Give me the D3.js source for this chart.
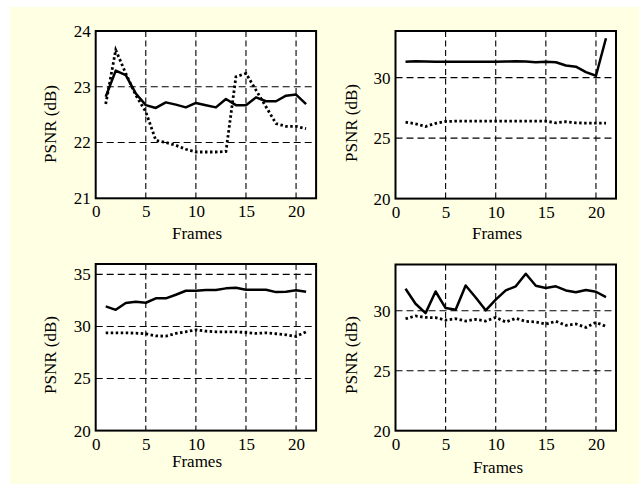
<!DOCTYPE html>
<html>
<head>
<meta charset="utf-8">
<script src="https://cdn.jsdelivr.net/npm/d3@7"></script>
<style>
  body { margin: 0; background: #fff; }
  svg { display: block; }
  text { font-family: "Liberation Serif", "Times New Roman", serif; fill: #000; }
</style>
</head>
<body>
<script>
// frame numbers on x
const frames = [1,2,3,4,5,6,7,8,9,10,11,12,13,14,15,16,17,18,19,20,21];
const xTicks = [0, 5, 10, 15, 20];

// PSNR values (dB), solid and dotted series for each panel
const p1Solid  = [22.82,23.29,23.21,22.88,22.67,22.62,22.72,22.68,22.63,22.71,22.67,22.63,22.78,22.67,22.67,22.81,22.74,22.74,22.84,22.86,22.69];
const p1Dotted = [22.69,23.66,23.24,22.85,22.55,22.04,22.0,21.95,21.88,21.83,21.83,21.83,21.84,23.18,23.24,22.94,22.64,22.34,22.29,22.29,22.25];
const p2Solid  = [31.3,31.35,31.32,31.3,31.3,31.3,31.3,31.3,31.3,31.3,31.32,31.35,31.33,31.27,31.3,31.27,31.0,30.9,30.45,30.15,33.25];
const p2Dotted = [26.32,26.18,25.96,26.21,26.37,26.4,26.4,26.4,26.4,26.4,26.4,26.4,26.4,26.4,26.4,26.26,26.35,26.26,26.24,26.24,26.24];
const p3Solid  = [31.93,31.6,32.25,32.38,32.28,32.7,32.7,33.05,33.43,33.43,33.5,33.5,33.66,33.72,33.53,33.53,33.53,33.3,33.33,33.47,33.33];
const p3Dotted = [29.39,29.39,29.39,29.36,29.3,29.1,29.07,29.33,29.49,29.68,29.55,29.49,29.49,29.49,29.42,29.33,29.39,29.3,29.2,29.04,29.49];
const p4Solid  = [31.83,30.58,29.8,31.6,30.22,30.08,32.1,31.1,30.03,30.92,31.69,32.03,33.08,32.08,31.89,32.03,31.69,31.53,31.72,31.58,31.14];
const p4Dotted = [29.33,29.56,29.44,29.42,29.22,29.33,29.14,29.28,29.14,29.44,29.06,29.36,29.11,29.06,28.89,29.11,28.78,28.89,28.61,29.03,28.69];

// y ranges and tick labels
const p1YDomain = [21, 24],    p1YTicks = [21, 22, 23, 24];
const p2YDomain = [20, 33.85], p2YTicks = [20, 25, 30];
const p3YDomain = [20, 36],    p3YTicks = [20, 25, 30, 35];
const p4YDomain = [20, 33.85], p4YTicks = [20, 25, 30];

const xLabel = "Frames";
const yLabel = "PSNR (dB)";

// layout of the four axes boxes
const panels = [
  { solid: p1Solid, dotted: p1Dotted, yDomain: p1YDomain, yTicks: p1YTicks,
    left: 95.7, right: 316.1, top: 31, bottom: 198.3, xlabY: 239, xlabX: 197, ylabX: 56, ylabY: 124 },
  { solid: p2Solid, dotted: p2Dotted, yDomain: p2YDomain, yTicks: p2YTicks,
    left: 395.5, right: 616, top: 31, bottom: 198.6, xlabY: 239, xlabX: 497, ylabX: 357, ylabY: 123 },
  { solid: p3Solid, dotted: p3Dotted, yDomain: p3YDomain, yTicks: p3YTicks,
    left: 95.7, right: 316.1, top: 264, bottom: 430.6, xlabY: 467, xlabX: 197, ylabX: 56, ylabY: 355 },
  { solid: p4Solid, dotted: p4Dotted, yDomain: p4YDomain, yTicks: p4YTicks,
    left: 395.5, right: 616, top: 264.5, bottom: 430.7, xlabY: 473, xlabX: 498, ylabX: 357, ylabY: 355 }
];

const W = 639, H = 484;
const svg = d3.select("body").append("svg")
  .attr("width", W)
  .attr("height", H);

// pale yellow figure background
svg.append("rect")
  .attr("x", 10).attr("y", 7)
  .attr("width", W - 10).attr("height", H - 7)
  .attr("fill", "#ffffe3");

panels.forEach(function (p) {
  const x = d3.scaleLinear().domain([0, 22]).range([p.left, p.right]);
  const y = d3.scaleLinear().domain(p.yDomain).range([p.bottom, p.top]);

  const g = svg.append("g");

  g.append("rect")
    .attr("x", p.left).attr("y", p.top)
    .attr("width", p.right - p.left).attr("height", p.bottom - p.top)
    .attr("fill", "#fff");

  // dashed grid
  g.selectAll(".vgrid")
    .data(xTicks.filter(d => d > 0))
    .enter().append("line")
      .attr("x1", d => x(d)).attr("x2", d => x(d))
      .attr("y1", p.top).attr("y2", p.bottom)
      .attr("stroke", "#000").attr("stroke-width", 1.1)
      .attr("stroke-dasharray", "6,3.5");

  g.selectAll(".hgrid")
    .data(p.yTicks.filter(d => d > p.yDomain[0] && d < p.yDomain[1] - 0.01))
    .enter().append("line")
      .attr("x1", p.left).attr("x2", p.right)
      .attr("y1", d => y(d)).attr("y2", d => y(d))
      .attr("stroke", "#000").attr("stroke-width", 1.1)
      .attr("stroke-dasharray", "7,4");

  const line = d3.line()
    .x((d, i) => x(frames[i]))
    .y(d => y(d));

  g.append("path")
    .datum(p.dotted)
    .attr("d", line)
    .attr("fill", "none")
    .attr("stroke", "#000")
    .attr("stroke-width", 2.8)
    .attr("stroke-dasharray", "2.5,2.5");

  g.append("path")
    .datum(p.solid)
    .attr("d", line)
    .attr("fill", "none")
    .attr("stroke", "#000")
    .attr("stroke-width", 2.5)
    .attr("stroke-linejoin", "round");

  // frame
  g.append("rect")
    .attr("x", p.left).attr("y", p.top)
    .attr("width", p.right - p.left).attr("height", p.bottom - p.top)
    .attr("fill", "none")
    .attr("stroke", "#000")
    .attr("stroke-width", 2);

  // tick labels
  const yAxis = g.append("g")
    .attr("transform", "translate(" + p.left + ",0)")
    .call(d3.axisLeft(y).tickValues(p.yTicks).tickSize(0).tickPadding(5).tickFormat(d3.format("d")));
  const xAxis = g.append("g")
    .attr("transform", "translate(0," + p.bottom + ")")
    .call(d3.axisBottom(x).tickValues(xTicks).tickSize(0).tickPadding(7));
  [yAxis, xAxis].forEach(function (a) {
    a.select(".domain").remove();
    a.selectAll("text")
      .style("font-family", '"Liberation Serif", serif')
      .style("font-size", "17px")
      .attr("fill", "#000");
    a.attr("font-size", null).attr("font-family", null);
  });

  g.append("text")
    .attr("x", p.xlabX).attr("y", p.xlabY)
    .attr("text-anchor", "middle")
    .style("font-size", "17px")
    .text(xLabel);

  g.append("text")
    .attr("transform", "translate(" + p.ylabX + "," + p.ylabY + ") rotate(-90)")
    .attr("text-anchor", "middle")
    .style("font-size", "17px")
    .text(yLabel);
});
</script>
</body>
</html>
